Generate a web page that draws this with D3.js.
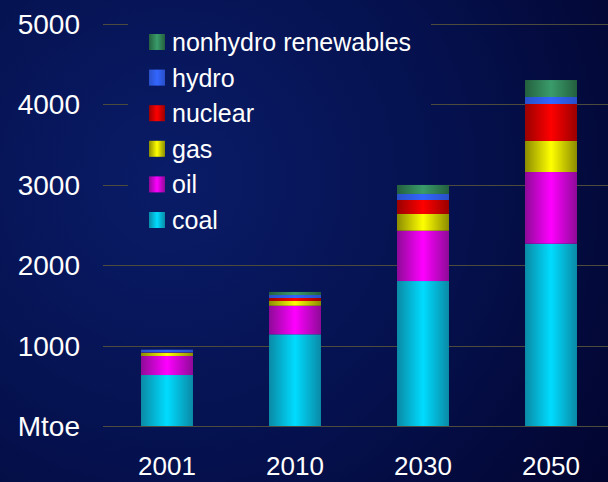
<!DOCTYPE html>
<html>
<head>
<meta charset="utf-8">
<script src="https://cdn.jsdelivr.net/npm/d3@7"></script>
<style>
  body { margin: 0; background: #030a40; }
  svg { display: block; }
</style>
</head>
<body>
<svg id="chart" width="608" height="482"></svg>
<script>
// values in Mtoe
var years = ["2001", "2010", "2030", "2050"];
var coal = [634, 1140, 1803, 2267];
var oil = [237, 356, 626, 892];
var gas = [37, 59, 208, 386];
var nuclear = [6, 37, 174, 460];
var hydro = [35, 37, 75, 87];
var nonhydro = [0, 38, 112, 211];
var yTicks = [0, 1000, 2000, 3000, 4000, 5000];

var seriesNames = ["coal", "oil", "gas", "nuclear", "hydro", "nonhydro renewables"];
var seriesValues = [coal, oil, gas, nuclear, hydro, nonhydro];
// [edge, centre] for the cylinder shading
var shades = [
  ["#0a8aa6", "#00dcff"],
  ["#8e0a98", "#ff00ff"],
  ["#8c8c00", "#ffff00"],
  ["#9a0000", "#ff0000"],
  ["#2850c8", "#3366ff"],
  ["#24603e", "#3a9c6a"]
];

var svg = d3.select("#chart");
var W = 608, H = 482;
var defs = svg.append("defs");

var bg = defs.append("radialGradient").attr("id", "bg")
  .attr("gradientUnits", "userSpaceOnUse")
  .attr("cx", 170).attr("cy", 180).attr("r", 520);
bg.append("stop").attr("offset", "0%").attr("stop-color", "#0a1c68");
bg.append("stop").attr("offset", "55%").attr("stop-color", "#05114e");
bg.append("stop").attr("offset", "100%").attr("stop-color", "#020530");

shades.forEach(function(s, i) {
  var g = defs.append("linearGradient").attr("id", "sh" + i)
    .attr("x1", "0%").attr("x2", "100%").attr("y1", "0%").attr("y2", "0%");
  g.append("stop").attr("offset", "0%").attr("stop-color", s[0]);
  g.append("stop").attr("offset", "50%").attr("stop-color", s[1]);
  g.append("stop").attr("offset", "100%").attr("stop-color", s[0]);
});

svg.append("rect").attr("width", W).attr("height", H).attr("fill", "url(#bg)");

var x = d3.scaleBand().domain(years).range([103, 615]).paddingInner(0.594).paddingOuter(0.297);
var y = d3.scaleLinear().domain([0, 5000]).range([426, 24]);

// gridlines
svg.append("g").selectAll("line")
  .data(yTicks)
  .enter()
  .append("line")
  .attr("x1", 103).attr("x2", W)
  .attr("y1", function(d) { return Math.round(y(d)) + 0.5; })
  .attr("y2", function(d) { return Math.round(y(d)) + 0.5; })
  .attr("stroke", "#4d4b3c")
  .attr("stroke-width", 1.2);

// legend box hides the gridlines behind it, bars go over it
var legend = svg.append("g");
legend.append("rect")
  .attr("x", 128).attr("y", 14).attr("width", 303).attr("height", 228)
  .attr("fill", "url(#bg)");

// y labels
svg.append("g").selectAll("text")
  .data(yTicks)
  .enter()
  .append("text")
  .text(function(d) { return d === 0 ? "Mtoe" : d; })
  .attr("x", 80)
  .attr("y", function(d) { return y(d); })
  .attr("dy", "0.36em")
  .attr("text-anchor", "end")
  .attr("font-family", "Liberation Sans, Arial, sans-serif")
  .attr("font-size", 28)
  .attr("fill", "#ffffff");

// stacked bars
var table = years.map(function(yr, i) {
  var row = { year: yr };
  seriesNames.forEach(function(n, k) { row[n] = seriesValues[k][i]; });
  return row;
});
var stacked = d3.stack().keys(seriesNames)(table);

svg.append("g").selectAll("g")
  .data(stacked)
  .enter()
  .append("g")
  .attr("fill", function(d, i) { return "url(#sh" + i + ")"; })
  .selectAll("rect")
  .data(function(d) { return d; })
  .enter()
  .append("rect")
  .attr("x", function(d) { return x(d.data.year); })
  .attr("width", x.bandwidth())
  .attr("y", function(d) { return y(d[1]); })
  .attr("height", function(d) { return y(d[0]) - y(d[1]); });

// x labels
svg.append("g").selectAll("text")
  .data(years)
  .enter()
  .append("text")
  .text(function(d) { return d; })
  .attr("x", function(d) { return x(d) + x.bandwidth() / 2; })
  .attr("y", 475)
  .attr("text-anchor", "middle")
  .attr("font-family", "Liberation Sans, Arial, sans-serif")
  .attr("font-size", 26)
  .attr("fill", "#ffffff");

var legendOrder = seriesNames.slice().reverse();
var rows = legend.selectAll("g")
  .data(legendOrder)
  .enter()
  .append("g")
  .attr("transform", function(d, i) { return "translate(149," + (34 + i * 35.6) + ")"; });

rows.append("rect")
  .attr("width", 16).attr("height", 16)
  .attr("fill", function(d) { return "url(#sh" + seriesNames.indexOf(d) + ")"; });

rows.append("text")
  .text(function(d) { return d; })
  .attr("x", 23)
  .attr("y", 8)
  .attr("dy", "0.36em")
  .attr("font-family", "Liberation Sans, Arial, sans-serif")
  .attr("font-size", 25)
  .attr("fill", "#ffffff");
</script>
</body>
</html>
